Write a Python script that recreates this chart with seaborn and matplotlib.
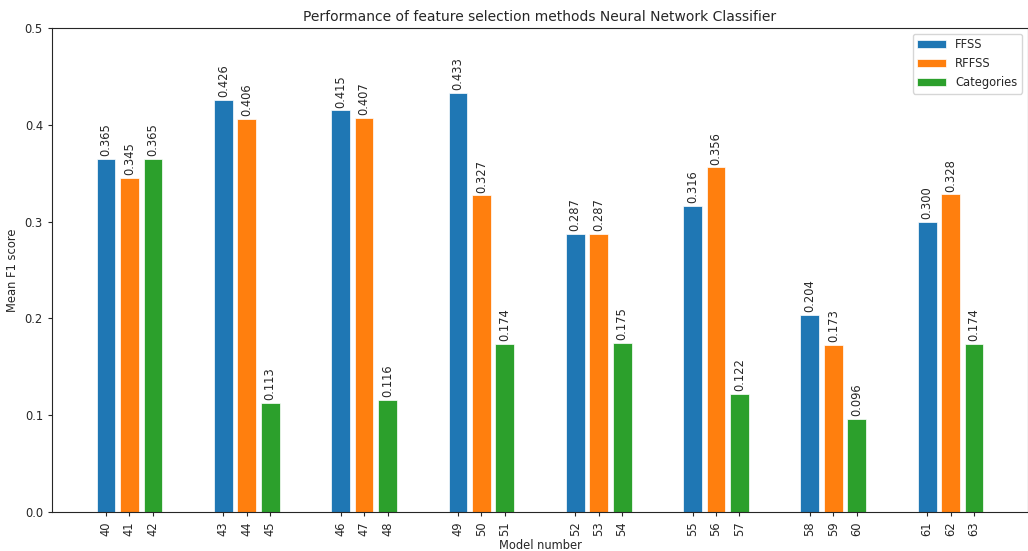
import matplotlib
matplotlib.use("Agg")
import matplotlib.pyplot as plt
import seaborn as sns
import pandas as pd

models = list(range(40, 64))
methods = ["FFSS", "RFFSS", "Categories"]
ffss = [0.365, 0.426, 0.415, 0.433, 0.287, 0.316, 0.204, 0.300]
rffss = [0.345, 0.406, 0.407, 0.327, 0.287, 0.356, 0.173, 0.328]
categories = [0.365, 0.113, 0.116, 0.174, 0.175, 0.122, 0.096, 0.174]
colors = ["#1f77b4", "#ff7f0e", "#2ca02c"]

rows = []
series = [ffss, rffss, categories]
for g in range(len(ffss)):
    for j, m in enumerate(methods):
        rows.append({"pos": g * 5 + j, "model": models[g * 3 + j],
                     "method": m, "score": series[j][g]})
df = pd.DataFrame(rows)

sns.set_style("ticks")
plt.rcParams['font.family'] = ['DejaVu Sans']
plt.rcParams['font.size'] = 8.3
plt.rcParams['xtick.labelsize'] = 8.3
plt.rcParams['ytick.labelsize'] = 8.3
plt.rcParams['axes.labelsize'] = 8.3
plt.rcParams['axes.titlesize'] = 10
plt.rcParams['legend.fontsize'] = 8.3
plt.rcParams['xtick.major.size'] = 3
plt.rcParams['ytick.major.size'] = 3

fig = plt.figure(figsize=(10.28, 5.51), dpi=100)
ax = fig.add_axes([52/1028, 1 - 512/551, 1 - 52/1028, (512 - 28)/551])

sns.barplot(data=df, x="pos", y="score", hue="method", hue_order=methods,
            palette=colors, native_scale=True, dodge=False, width=0.8,
            saturation=1, ax=ax, edgecolor="white", linewidth=0.5)

for c in ax.containers:
    ax.bar_label(c, fmt="%.3f", rotation=90, padding=2, fontsize=8.3)

ax.set_xticks(df["pos"].tolist())
ax.set_xticklabels([str(m) for m in df["model"]], rotation=90)
ax.set_xlim(-2.3, 39.3)
ax.set_ylim(0, 0.5)
ax.set_yticks([0.0, 0.1, 0.2, 0.3, 0.4, 0.5])
ax.set_xlabel("Model number", labelpad=2)
ax.set_ylabel("Mean F1 score")
ax.set_title("Performance of feature selection methods Neural Network Classifier", pad=5)
ax.legend(loc="upper right", title=None, handlelength=2.5)
fig.savefig("out.png", dpi=100)
